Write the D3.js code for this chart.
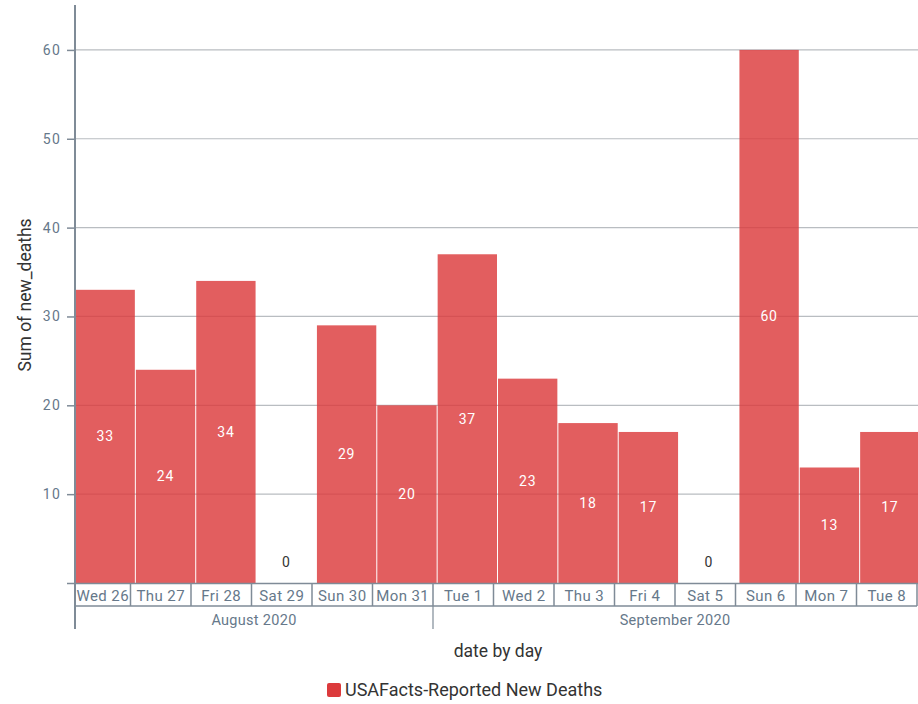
<!DOCTYPE html>
<html>
<head>
<meta charset="utf-8">
<script src="https://cdn.jsdelivr.net/npm/d3@7"></script>
<style>
    body { margin: 0; background: #fff; }
    text { font-family: Roboto, "Noto Sans", sans-serif; }
</style>
</head>
<body>
<svg id="chart" width="918" height="704"></svg>
<script>
// data
const days = ["Wed 26", "Thu 27", "Fri 28", "Sat 29", "Sun 30", "Mon 31", "Tue 1",
    "Wed 2", "Thu 3", "Fri 4", "Sat 5", "Sun 6", "Mon 7", "Tue 8"];
const newDeaths = [33, 24, 34, 0, 29, 20, 37, 23, 18, 17, 0, 60, 13, 17];
const months = [
    { label: "August 2020", first: "Wed 26", last: "Mon 31" },
    { label: "September 2020", first: "Tue 1", last: "Tue 8" }
];
const yTicks = [10, 20, 30, 40, 50, 60];
const seriesName = "USAFacts-Reported New Deaths";

const svg = d3.select("#chart");
const barColor = "#dc3a3c";
const axisColor = "#7f8b97";
const tickText = "#66788a";

const y = d3.scaleLinear().domain([0, 65]).range([583, 5.5]);
const x = d3.scaleBand().domain(days).range([75, 920]);
// the day cells under the bars sit a little to the left of the bars
const xCell = d3.scaleBand().domain(days).range([70, 917]);

svg.append("defs").append("clipPath").attr("id", "plotClip")
    .append("rect").attr("x", 75).attr("y", 0).attr("width", 843).attr("height", 704);

// grid lines
svg.append("g")
    .selectAll("line")
    .data(yTicks)
    .join("line")
    .attr("x1", 75).attr("x2", 918)
    .attr("y1", d => y(d)).attr("y2", d => y(d))
    .attr("stroke", "#b9bdc1")
    .attr("stroke-width", 1.2);

// bars
svg.append("g")
    .selectAll("rect")
    .data(newDeaths)
    .join("rect")
    .attr("x", (d, i) => x(days[i]) + 0.5)
    .attr("width", x.bandwidth() - 1)
    .attr("y", d => y(d))
    .attr("height", d => y(0) - y(d))
    .attr("fill", barColor)
    .attr("fill-opacity", 0.82);

// value labels
svg.append("g")
    .selectAll("text")
    .data(newDeaths)
    .join("text")
    .attr("x", (d, i) => x(days[i]) + x.bandwidth() / 2)
    .attr("y", d => d === 0 ? y(0) - 21 : (y(d) + y(0)) / 2)
    .attr("dy", "0.35em")
    .attr("text-anchor", "middle")
    .attr("fill", d => d === 0 ? "#333" : "#fff")
    .style("font-size", "14px")
    .style("letter-spacing", "0.8px")
    .text(d => d);

// y axis
const yAxis = svg.append("g")
    .attr("transform", "translate(75,0)")
    .call(d3.axisLeft(y).tickValues([0].concat(yTicks)).tickSize(8).tickPadding(6)
        .tickFormat(d => d === 0 ? "" : d));
yAxis.select(".domain").remove();
yAxis.selectAll(".tick line").attr("stroke", axisColor).attr("stroke-width", 1.5);
yAxis.selectAll(".tick text")
    .attr("fill", tickText)
    .style("font-size", "14px")
    .style("letter-spacing", "1.2px")
    .style("font-family", "Roboto, sans-serif");

svg.append("line")
    .attr("x1", 75).attr("x2", 75).attr("y1", 5).attr("y2", 629)
    .attr("stroke", axisColor).attr("stroke-width", 2);

// x axis: day cells
const cells = svg.append("g").attr("clip-path", "url(#plotClip)");
cells.append("line")
    .attr("x1", 75).attr("x2", 918).attr("y1", 583.5).attr("y2", 583.5)
    .attr("stroke", axisColor).attr("stroke-width", 1.5);
cells.append("line")
    .attr("x1", 75).attr("x2", 917).attr("y1", 606).attr("y2", 606)
    .attr("stroke", axisColor).attr("stroke-width", 1.5);
cells.selectAll(".sep")
    .data(days)
    .join("line")
    .attr("class", "sep")
    .attr("x1", d => xCell(d) + xCell.bandwidth())
    .attr("x2", d => xCell(d) + xCell.bandwidth())
    .attr("y1", 583).attr("y2", 606)
    .attr("stroke", axisColor).attr("stroke-width", 1.5);
cells.selectAll(".day")
    .data(days)
    .join("text")
    .attr("class", "day")
    .attr("x", d => {
        const left = Math.max(75, xCell(d));
        return (left + xCell(d) + xCell.bandwidth()) / 2;
    })
    .attr("y", 596)
    .attr("dy", "0.35em")
    .attr("text-anchor", "middle")
    .attr("fill", tickText)
    .style("font-size", "15px")
    .style("letter-spacing", "0.4px")
    .text(d => d);

// x axis: month row
months.forEach(m => {
    const left = Math.max(75, xCell(m.first));
    const right = xCell(m.last) + xCell.bandwidth();
    if (left > 75) {
        svg.append("line")
            .attr("x1", left).attr("x2", left).attr("y1", 606).attr("y2", 629)
            .attr("stroke", axisColor).attr("stroke-width", 1.2);
    }
    svg.append("text")
        .attr("x", (left + right) / 2)
        .attr("y", 620)
        .attr("dy", "0.35em")
        .attr("text-anchor", "middle")
        .attr("fill", tickText)
        .style("font-size", "14.5px")
        .style("letter-spacing", "0.3px")
        .text(m.label);
});

// axis titles
svg.append("text")
    .attr("transform", "translate(31,295) rotate(-90)")
    .attr("text-anchor", "middle")
    .attr("fill", "#333")
    .style("font-size", "17.5px")
    .text("Sum of new_deaths");

svg.append("text")
    .attr("x", 498).attr("y", 651)
    .attr("dy", "0.35em")
    .attr("text-anchor", "middle")
    .attr("fill", "#333")
    .style("font-size", "17.5px")
    .text("date by day");

// legend
const legend = svg.append("g").attr("transform", "translate(327,683)");
legend.append("rect")
    .attr("width", 14).attr("height", 14)
    .attr("rx", 2)
    .attr("fill", barColor);
legend.append("text")
    .attr("x", 18).attr("y", 7)
    .attr("dy", "0.35em")
    .attr("fill", "#333")
    .style("font-size", "18px")
    .text(seriesName);
</script>
</body>
</html>
